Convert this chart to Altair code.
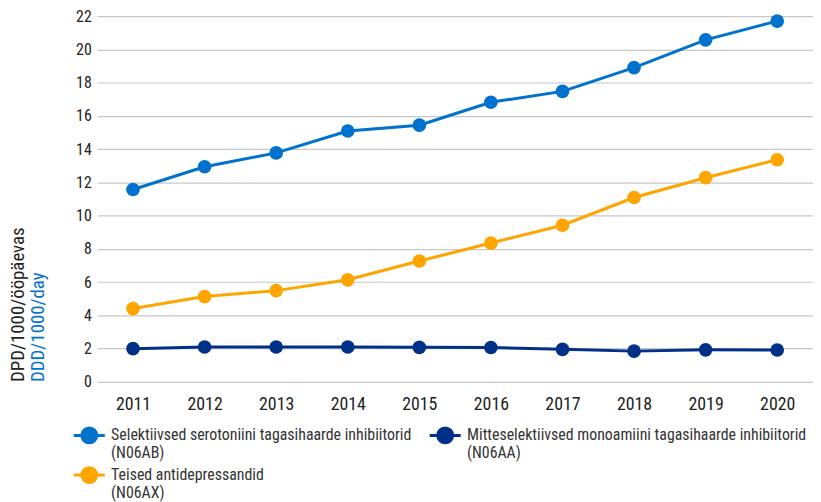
import altair as alt
import pandas as pd

years = ["2011", "2012", "2013", "2014", "2015", "2016", "2017", "2018", "2019", "2020"]
ssri = [11.57, 12.94, 13.77, 15.09, 15.44, 16.82, 17.47, 18.90, 20.57, 21.70]
maoi = [2.00, 2.10, 2.10, 2.10, 2.08, 2.07, 1.96, 1.85, 1.93, 1.92]
other = [4.41, 5.13, 5.49, 6.14, 7.27, 8.35, 9.42, 11.09, 12.28, 13.36]

series_names = [
    "Selektiivsed serotoniini tagasihaarde inhibiitorid\n(N06AB)",
    "Mitteselektiivsed monoamiini tagasihaarde inhibiitorid\n(N06AA)",
    "Teised antidepressandid\n(N06AX)",
]
series_colors = ["#0072CE", "#003087", "#FFA500"]
y_ticks = list(range(0, 23, 2))
title_lines = ["DPD/1000/ööpäevas", "DDD/1000/day"]
title_colors = ["#222222", "#0072CE"]

rows = []
for name, vals in zip(series_names, [ssri, maoi, other]):
    for yr, v in zip(years, vals):
        rows.append({"year": yr, "value": v, "series": name})
df = pd.DataFrame(rows)

FONT = "Roboto Condensed, Liberation Sans Narrow, DejaVu Sans Condensed, Roboto"

sym = "M-1.25,0L1.25,0M0.6,0A0.6,0.6,0,1,1,-0.6,0A0.6,0.6,0,1,1,0.6,0Z"

color = alt.Color(
    "series:N",
    scale=alt.Scale(domain=series_names, range=series_colors),
    sort=series_names,
    legend=alt.Legend(
        title=None,
        orient="none",
        legendX=-22,
        legendY=409,
        columns=2,
        direction="horizontal",
        symbolType=sym,
        symbolSize=625,
        symbolStrokeWidth=3,
        symbolFillColor="currentColor",
        labelExpr="split(datum.label, '\\n')",
        labelLimit=500,
        labelFont=FONT,
        labelFontSize=16,
        labelColor="#333333",
        labelOffset=8,
        columnPadding=12,
        rowPadding=-6,
    ),
)

base = alt.Chart(df).encode(
    x=alt.X(
        "year:O",
        sort=years,
        scale=alt.Scale(paddingInner=0, paddingOuter=0),
        axis=alt.Axis(title=None, labelAngle=0, ticks=False, domain=False,
                      labelPadding=14, labelFont=FONT, labelFontSize=18,
                      labelColor="#222222"),
    ),
    y=alt.Y(
        "value:Q",
        scale=alt.Scale(domain=[0, 22], nice=False),
        axis=alt.Axis(title=None, values=y_ticks, ticks=False, domain=False,
                      labelPadding=6, labelFont=FONT, labelFontSize=16,
                      labelColor="#222222", gridColor="#c8c8c8", gridWidth=1.2),
    ),
    color=color,
)

lines = base.mark_line(strokeWidth=3)
points = base.mark_circle(size=190, opacity=1)

tdf = pd.DataFrame({"t": title_lines, "c": title_colors, "off": [-80, -60]})
titles = alt.Chart(tdf).mark_text(angle=270, align="left", baseline="middle",
                                  font=FONT, fontSize=19).encode(
    x=alt.X("off:Q", scale=None),
    y=alt.value(369),
    text="t:N",
    color=alt.Color("c:N", scale=None),
)

chart = alt.layer(lines, points, titles).properties(
    width=722, height=369,
    autosize=alt.AutoSizeParams(type="none"),
    padding={"left": 90, "top": 6, "right": 0, "bottom": 119},
).configure_view(stroke=None)

chart.save("out.html", embed_options={"renderer": "svg", "actions": False})
